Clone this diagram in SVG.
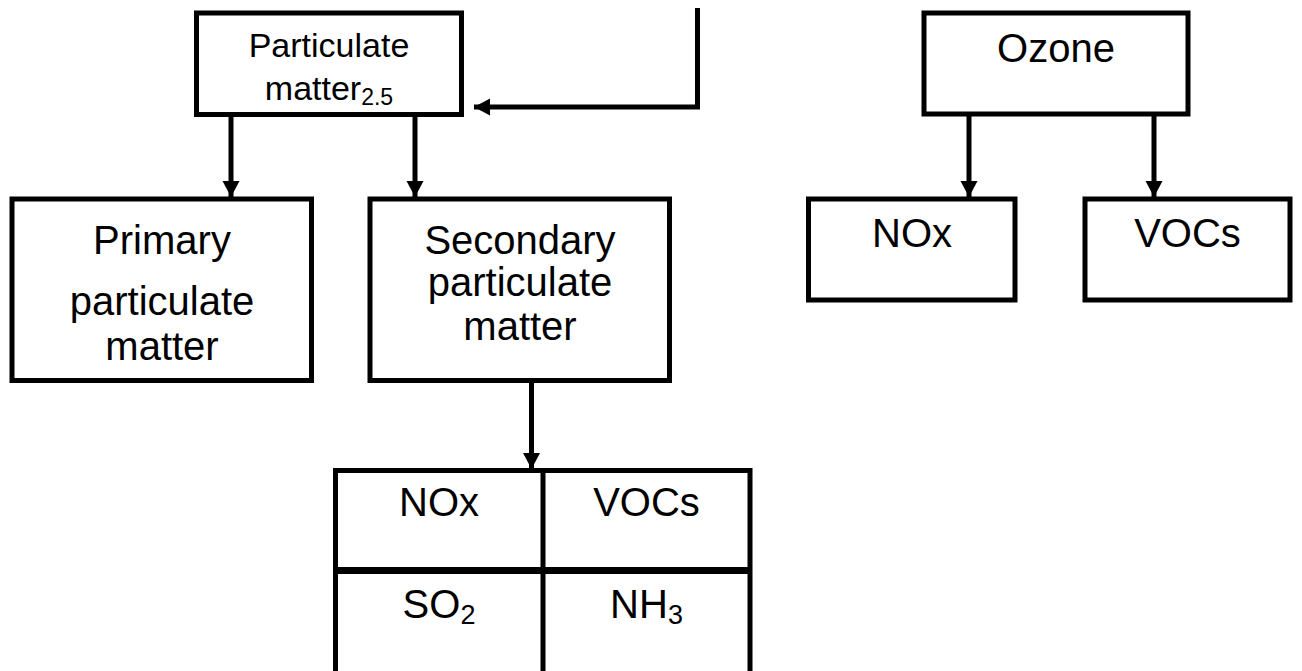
<svg xmlns="http://www.w3.org/2000/svg" width="1302" height="671" viewBox="0 0 1302 671">
<defs>
<style>
.box{fill:#fff;stroke:#000;stroke-width:5}
.ln{fill:none;stroke:#000;stroke-width:5}
.t{font-family:"Liberation Sans",Arial,sans-serif;font-size:40px;fill:#000;text-anchor:middle}
.s{font-family:"Liberation Sans",Arial,sans-serif;font-size:34px;fill:#000;text-anchor:middle}
</style>
<marker id="ah" markerUnits="userSpaceOnUse" markerWidth="20" markerHeight="20" refX="16" refY="8.5" orient="auto">
<path d="M0,0 L16,8.5 L0,17 Z" fill="#000"/>
</marker>
</defs>
<g id="connectors">
<path class="ln" d="M697.5,8 V107 H474" marker-end="url(#ah)"/>
<path class="ln" d="M231,117 V197" marker-end="url(#ah)"/>
<path class="ln" d="M415,117 V197" marker-end="url(#ah)"/>
<path class="ln" d="M969,116 V197" marker-end="url(#ah)"/>
<path class="ln" d="M1154,116 V197" marker-end="url(#ah)"/>
<path class="ln" d="M531.5,383 V469" marker-end="url(#ah)"/>
</g>
<g id="pm25">
<rect class="box" x="196.5" y="13" width="265" height="101.5"/>
<text class="s" x="329" y="57">Particulate</text>
<text class="s" x="329" y="100">matter<tspan font-size="23" dy="5">2.5</tspan></text>
</g>
<g id="primary">
<rect class="box" x="12" y="199" width="299.5" height="181.5"/>
<text class="t" x="162" y="254">Primary</text>
<text class="t" x="162" y="315">particulate</text>
<text class="t" x="162" y="360">matter</text>
</g>
<g id="secondary">
<rect class="box" x="370" y="199" width="299.5" height="181.5"/>
<text class="t" x="520" y="254">Secondary</text>
<text class="t" x="520" y="296">particulate</text>
<text class="t" x="520" y="340">matter</text>
</g>
<g id="table">
<rect class="box" x="335.5" y="470.5" width="414.5" height="220"/>
<line class="ln" x1="543" y1="470.5" x2="543" y2="690"/>
<line x1="335.5" y1="570.5" x2="750" y2="570.5" stroke="#000" stroke-width="7"/>
<text class="t" x="439" y="516">NOx</text>
<text class="t" x="646.5" y="516">VOCs</text>
<text class="t" x="439" y="618">SO<tspan font-size="27" dy="6">2</tspan></text>
<text class="t" x="646.5" y="618">NH<tspan font-size="27" dy="6">3</tspan></text>
</g>
<g id="ozone">
<rect class="box" x="924" y="13" width="264" height="101"/>
<text class="t" x="1056" y="62">Ozone</text>
</g>
<g id="nox">
<rect class="box" x="808.5" y="199" width="206.5" height="101"/>
<text class="t" x="912" y="247">NOx</text>
</g>
<g id="vocs">
<rect class="box" x="1085" y="199" width="205" height="101"/>
<text class="t" x="1187.5" y="247">VOCs</text>
</g>
</svg>
